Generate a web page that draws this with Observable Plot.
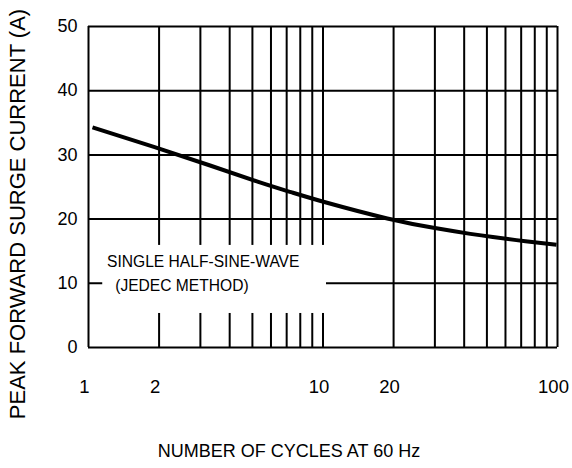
<!DOCTYPE html>
<html>
<head>
<meta charset="utf-8">
<script src="https://cdn.jsdelivr.net/npm/d3@7"></script>
<script src="https://cdn.jsdelivr.net/npm/@observablehq/plot@0.6"></script>
<style>
  html, body { margin: 0; padding: 0; background: #fff; }
  #chart { width: 572px; height: 468px; }
</style>
</head>
<body>
<div id="chart"></div>
<script>
// Data
const cycles  = [1.04, 1.9, 3.3, 5.3, 7.3, 10.5, 18.8, 30, 42.5, 53, 73, 99];
const current = [34.3, 31.25, 28.35, 25.8, 24.2, 22.5, 20.1, 18.6, 17.7, 17.2, 16.55, 16.0];

const xGrid = [1, 2, 3, 4, 5, 6, 7, 8, 9, 10, 20, 30, 40, 50, 60, 70, 80, 90, 100];
const yGrid = [0, 10, 20, 30, 40, 50];
const xTickLabels = [1, 2, 5, 10, 20, 50, 100];
const yTickLabels = [0, 10, 20, 30, 40, 50];

const noteLines = ["SINGLE HALF-SINE-WAVE", "(JEDEC METHOD)"];
const noteX = [1.2, 1.3];
const noteY = [13.3, 9.6];
const noteBoxX = [1.15, 10.35];
const noteBoxY = [5.3, 15.9];

const xTitle = "NUMBER OF CYCLES AT 60 Hz";
const yTitle = "PEAK FORWARD SURGE CURRENT (A)";

const curveData = cycles.map((c, i) => ({x: c, y: current[i]}));
const FONT = "'Liberation Sans', Arial, Helvetica, sans-serif";

const chart = Plot.plot({
  width: 572,
  height: 468,
  marginLeft: 88,
  marginRight: 15,
  marginTop: 26,
  marginBottom: 121,
  style: {fontFamily: FONT, background: "#fff", color: "#000"},
  x: {type: "log", domain: [1, 100], axis: null},
  y: {domain: [0, 50], axis: null},
  marks: [
    Plot.ruleX(xGrid, {x: d => d, y1: 0, y2: 50, stroke: "#000", strokeWidth: 2}),
    Plot.ruleY(yGrid, {y: d => d, x1: 1, x2: 100, stroke: "#000", strokeWidth: 2}),
    Plot.rect([0], {x1: () => noteBoxX[0], x2: () => noteBoxX[1], y1: () => noteBoxY[0], y2: () => noteBoxY[1], fill: "#fff"}),
    Plot.text(noteLines, {x: (d, i) => noteX[i], y: (d, i) => noteY[i], text: d => d, textAnchor: "start", fontSize: 15.6, fill: "#000"}),
    Plot.line(curveData, {x: "x", y: "y", curve: "natural", stroke: "#000", strokeWidth: 4, strokeLinecap: "butt"}),
    Plot.axisY(yTickLabels, {tickSize: 0, tickPadding: 11, fontSize: 18, tickFormat: d => String(d), label: null}),
    Plot.axisX(xTickLabels, {tickSize: 0, tickPadding: 32, fontSize: 18.5, dx: -4, tickFormat: d => String(d), label: null}),
    Plot.text([xTitle], {frameAnchor: "bottom", dy: 109, dx: -34, fontSize: 18, fill: "#000"}),
    Plot.text([yTitle], {frameAnchor: "left", textAnchor: "middle", rotate: -90, dx: -71, dy: 27, fontSize: 22, fill: "#000"})
  ]
});
document.getElementById("chart").appendChild(chart);
</script>
</body>
</html>
